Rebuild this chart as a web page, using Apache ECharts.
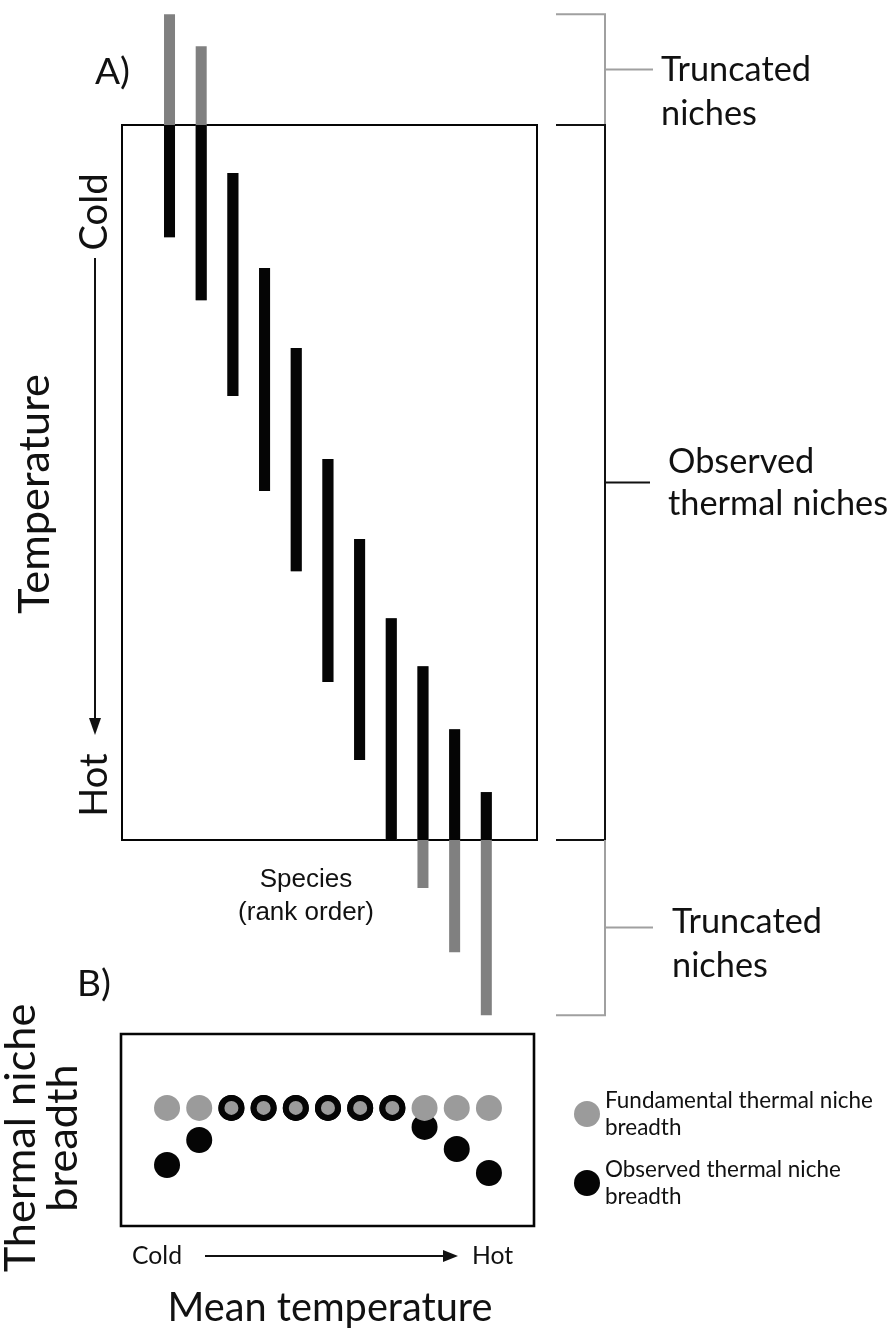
<!DOCTYPE html>
<html><head><meta charset="utf-8">
<script src="https://cdn.jsdelivr.net/npm/echarts@6/dist/echarts.min.js"></script>
<style>html,body{margin:0;padding:0;background:#fff}#c{width:896px;height:1331px}</style>
</head><body><div id="c"></div>
<script>
// ---- data ----
const species = [1,2,3,4,5,6,7,8,9,10,11];
// fundamental thermal niche limits (0 = coldest observed temperature, 100 = hottest observed)
const nicheCold = [-15.5,-11.0,6.7,20.0,31.2,46.7,57.9,69.0,75.7,84.5,93.3];
const nicheHot  = [15.7,24.5,37.9,51.2,62.4,77.9,88.8,100.0,106.7,115.7,124.5];
const observedRange = [0, 100];
// panel B: niche breadth (arbitrary units)
const fundamentalBreadth = [6.15,6.15,6.15,6.15,6.15,6.15,6.15,6.15,6.15,6.15,6.15];
const observedBreadth    = [3.18,4.48,6.15,6.15,6.15,6.15,6.15,6.15,5.16,4.01,2.76];
const seriesNames = ['Fundamental thermal niche breadth','Observed thermal niche breadth'];

// ---- styling helpers ----
const FONT = 'Lato';
const cv = document.createElement('canvas').getContext('2d');
function fit(text, width, fam){ cv.font = '100px ' + (fam||FONT); return 100*width/cv.measureText(text).width; }
const sTrunc = fit('Truncated', 150);
const sMean = fit('Mean temperature', 325);
const sLegend = fit('Fundamental thermal niche', 268);
const sCold = fit('Cold', 50);
const sTemp = fit('Temperature', 240);
const sAB = fit('A)', 35);
const sSpecies = 26;
const BLACK = '#050505', GREYBAR = '#808080', GREYDOT = '#9b9b9b', GREYLINE = '#a0a0a0';

const chart = echarts.init(document.getElementById('c'));

const option = {
  animation: false,
  backgroundColor: '#fff',
  grid: [
    {left:122, top:125, width:415, height:715, show:true, borderColor:BLACK, borderWidth:2, backgroundColor:'transparent'},
    {left:121, top:1034, width:413, height:192, show:true, borderColor:BLACK, borderWidth:2.6, backgroundColor:'transparent'}
  ],
  xAxis: [
    {type:'value', gridIndex:0, min:-0.5, max:12.6, show:false},
    {type:'value', gridIndex:1, min:-0.43, max:12.4, show:false}
  ],
  yAxis: [
    {type:'value', gridIndex:0, min:observedRange[0], max:observedRange[1], inverse:true, show:false},
    {type:'value', gridIndex:1, min:0, max:10, show:false}
  ],
  legend: {
    orient:'vertical', left:569, top:1082, itemWidth:26, itemHeight:26, itemGap:15,
    icon:'circle', selectedMode:false, data: seriesNames.slice(),
    formatter: n => n.replace(' niche ', ' niche\n'),
    textStyle:{fontFamily:FONT, fontSize:sLegend, lineHeight:27, color:'#111'}
  },
  series: [
    {
      type:'custom', name:'Thermal niches', xAxisIndex:0, yAxisIndex:0, clip:false,
      data: species.map((s,i)=>[s, nicheCold[i], nicheHot[i]]),
      encode:{x:0, y:[1,2]},
      renderItem: function(params, api){
        const x = api.value(0), lo = api.value(1), hi = api.value(2), w = 11;
        const a = api.coord([x, lo]), b = api.coord([x, hi]);
        const oLo = Math.max(lo, observedRange[0]), oHi = Math.min(hi, observedRange[1]);
        const c = api.coord([x, oLo]), d = api.coord([x, oHi]);
        return {type:'group', children:[
          {type:'rect', shape:{x:a[0]-w/2, y:Math.min(a[1],b[1]), width:w, height:Math.abs(b[1]-a[1])}, style:{fill:GREYBAR}},
          {type:'rect', shape:{x:c[0]-w/2, y:Math.min(c[1],d[1]), width:w, height:Math.abs(d[1]-c[1])}, style:{fill:BLACK}}
        ]};
      }
    },
    {
      type:'scatter', name:seriesNames[1], xAxisIndex:1, yAxisIndex:1, z:2,
      symbolSize:26, itemStyle:{color:BLACK, opacity:1},
      data: species.map((s,i)=>[s, observedBreadth[i]])
    },
    {
      type:'scatter', name:seriesNames[0], xAxisIndex:1, yAxisIndex:1, z:3,
      symbolSize:26, itemStyle:{color:GREYDOT, opacity:1},
      data: species.map((s,i)=> observedBreadth[i] === fundamentalBreadth[i]
        ? {value:[s, fundamentalBreadth[i]], symbolSize:20, itemStyle:{color:GREYDOT, borderColor:BLACK, borderWidth:6, opacity:1}}
        : {value:[s, fundamentalBreadth[i]]})
    }
  ]
};
chart.setOption(option);

// ---- annotations positioned from the axes ----
const P = (g, x, y) => chart.convertToPixel({gridIndex:g}, [x, y]);
const yFT = P(0, 1, Math.min(...nicheCold))[1];
const yOT = P(0, 1, observedRange[0])[1];
const yOB = P(0, 1, observedRange[1])[1];
const yFB = P(0, 1, Math.max(...nicheHot))[1];
const bx = 605, ax = 556;
const line = (pts, color, w) => ({type:'polyline', shape:{points:pts}, style:{stroke:color, lineWidth:w||2, fill:null}, silent:true});
const txt = (text, x, y, size, opts) => Object.assign({type:'text', x:x, y:y, silent:true,
  style:Object.assign({text:text, fontFamily:FONT, fontSize:size, fill:'#111', textAlign:'left', textVerticalAlign:'middle'}, (opts&&opts.style)||{})},
  opts && opts.rotation ? {rotation:opts.rotation} : {});
const midT = (yFT+yOT)/2, midO = (yOT+yOB)/2, midB = (yOB+yFB)/2;

const graphics = [
  line([[ax,yFT],[bx,yFT],[bx,yOT]], GREYLINE, 2),
  line([[ax,yOT],[bx,yOT],[bx,yOB],[ax,yOB]], '#111', 2),
  line([[bx,yOB],[bx,yFB],[ax,yFB]], GREYLINE, 2),
  line([[bx,midT],[653,midT]], GREYLINE, 2),
  line([[bx,midO],[650,midO]], '#111', 2),
  line([[bx,midB],[653,midB]], GREYLINE, 2),
  txt('Truncated\nniches', 661, midT+22, sTrunc, {style:{lineHeight:44}}),
  txt('Observed\nthermal niches', 668, midO, sTrunc, {style:{lineHeight:42}}),
  txt('Truncated\nniches', 672, midB+16, sTrunc, {style:{lineHeight:44}}),
  txt('A)', 95, 72, sAB),
  txt('B)', 77, 984, sAB),
  // panel A temperature axis
  txt('Temperature', 35, 494, sTemp, {rotation:Math.PI/2, style:{textAlign:'center'}}),
  txt('Cold', 95, 212, sTemp*0.88, {rotation:Math.PI/2, style:{textAlign:'center'}}),
  txt('Hot', 95, 785, sTemp*0.88, {rotation:Math.PI/2, style:{textAlign:'center'}}),
  line([[95,258],[95,720]], '#111', 2),
  {type:'polygon', shape:{points:[[89,718],[101,718],[95,735]]}, style:{fill:'#111'}, silent:true},
  // species label
  txt('Species\n(rank order)', 306, 896, sSpecies, {style:{textAlign:'center', fontFamily:'Liberation Sans', lineHeight:33}}),
  // panel B axes
  txt('Thermal niche\nbreadth', 42, 1138, sTemp, {rotation:Math.PI/2, style:{textAlign:'center', lineHeight:42}}),
  txt('Cold', 132, 1256, sCold),
  line([[205,1256],[445,1256]], '#111', 2),
  {type:'polygon', shape:{points:[[443,1250],[443,1262],[458,1256]]}, style:{fill:'#111'}, silent:true},
  txt('Hot', 472, 1256, sCold),
  txt('Mean temperature', 330, 1308, sMean, {style:{textAlign:'center'}})
];
chart.setOption({graphic: graphics});
</script>
</body></html>
